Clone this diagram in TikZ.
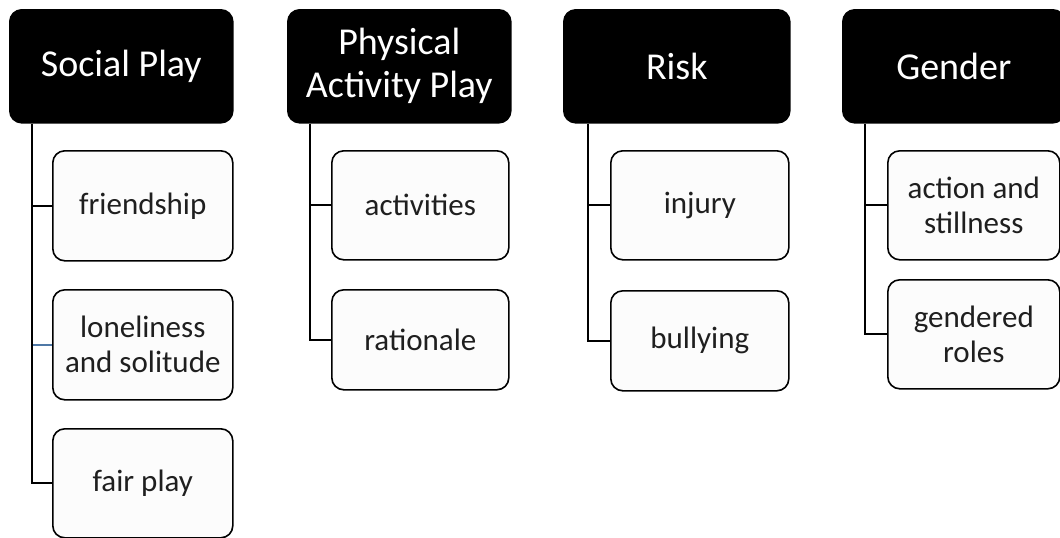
\documentclass[tikz,border=0pt]{standalone}
\usepackage{fontspec}
\setmainfont{Carlito}
\definecolor{stub}{RGB}{79,120,166}
\begin{document}
\begin{tikzpicture}[x=1pt,y=-1pt,
  head/.style={draw=black, fill=black, text=white, rounded corners=12pt,
    line width=1.6pt, anchor=north west, minimum height=113pt,
    inner sep=0pt, align=center, font=\fontsize{38}{43}\selectfont},
  item/.style={draw=black, fill=black!1, text=black!88, rounded corners=12pt,
    line width=1.6pt, anchor=north west, minimum height=110pt,
    inner sep=0pt, align=center, font=\fontsize{31}{35}\selectfont},
  link/.style={line width=1.8pt, draw=black}]
\useasboundingbox (0,0) rectangle (1060,538);

% category headers
\node[head, minimum width=223pt] (sp)   at (9,9)   {Social Play};
\node[head, minimum width=223pt] (pap)  at (287,9) {Physical\\Activity Play};
\node[head, minimum width=226pt] (risk) at (563,9) {Risk};
\node[head, minimum width=222pt] (gen)  at (842,9) {Gender};

% Social Play
\node[item, minimum width=180pt] (fr) at (52,150) {friendship};
\node[item, minimum width=180pt] (lo) at (52,289) {loneliness\\and solitude};
\node[item, minimum width=180pt, minimum height=109pt] (fp) at (52,428) {fair play};

% Physical Activity Play
\node[item, minimum width=177pt, minimum height=109pt] (ac) at (331,150) {activities};
\node[item, minimum width=177pt, minimum height=100pt] (ra) at (331,289) {rationale};

% Risk
\node[item, minimum width=178pt, minimum height=109pt] (in) at (610,150) {injury};
\node[item, minimum width=178pt, minimum height=100pt] (bu) at (610,290) {bullying};

% Gender
\node[item, minimum width=172pt, minimum height=109pt] (as) at (887,150) {action and\\stillness};
\node[item, minimum width=172pt, minimum height=109pt] (gr) at (887,279) {gendered\\roles};

% connectors
\draw[line width=1.7pt, draw=stub] ([xshift=23pt]sp.south west |- lo.west) -- (lo.west);
\draw[link] ([xshift=23pt]sp.south west) |- (fp.west);
\draw[link] ([xshift=23pt]sp.south west |- fr.west) -- (fr.west);

\draw[link] ([xshift=23pt]pap.south west) |- (ra.west);
\draw[link] ([xshift=23pt]pap.south west |- ac.west) -- (ac.west);

\draw[link] ([xshift=25pt]risk.south west) |- (bu.west);
\draw[link] ([xshift=25pt]risk.south west |- in.west) -- (in.west);

\draw[link] ([xshift=23pt]gen.south west) |- (gr.west);
\draw[link] ([xshift=23pt]gen.south west |- as.west) -- (as.west);
\end{tikzpicture}
\end{document}
